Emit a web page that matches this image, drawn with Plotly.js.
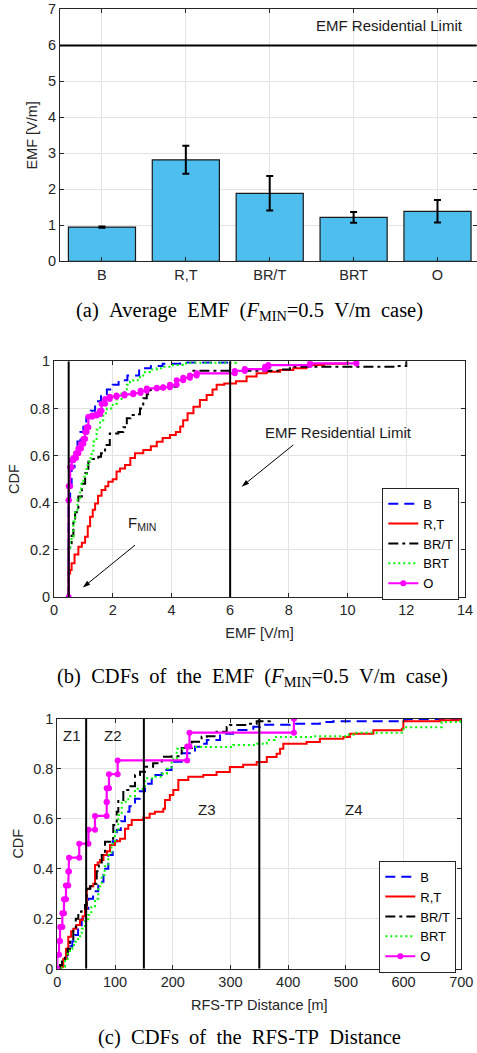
<!DOCTYPE html>
<html><head><meta charset="utf-8">
<script src="https://cdn.plot.ly/plotly-3.0.1.min.js"></script>
<style>html,body{margin:0;padding:0;background:#fff}</style>
</head><body><div id="chart" style="width:477px;height:1053px"></div>
<script>
// ---------- (a) Average EMF ----------
const categories = ['B', 'R,T', 'BR/T', 'BRT', 'O'];
const avgEmf = [0.95, 2.82, 1.89, 1.22, 1.39];
const avgEmfErr = [0.02, 0.39, 0.48, 0.15, 0.31];
const emfLimit = 6;
const fMin = 0.5;

// ---------- (b) CDFs of the EMF (jump positions and CDF level after each jump) ----------
const emfB_x = [0.5, 0.55, 0.6, 0.7, 0.8, 0.9, 1.0, 1.1, 1.25, 1.4, 1.6, 1.8, 2.0, 2.2, 2.5, 2.9, 3.3, 3.7, 4.3, 5.9];
const emfB_f = [0.40, 0.48, 0.55, 0.61, 0.66, 0.70, 0.73, 0.76, 0.79, 0.83, 0.86, 0.88, 0.90, 0.92, 0.94, 0.97, 0.98, 0.99, 0.995, 1.0];

const emfRT_x = [0.5, 0.55, 0.6, 0.7, 0.83, 0.95, 1.06, 1.15, 1.23, 1.32, 1.4, 1.5, 1.62, 1.75, 1.85, 2.0, 2.13, 2.25, 2.42, 2.6, 2.76, 3.04, 3.3, 3.5, 3.7, 3.95, 4.15, 4.3, 4.4, 4.55, 4.75, 4.97, 5.2, 5.4, 5.54, 5.8, 6.2, 6.56, 6.9, 7.24, 7.7, 8.15, 8.6, 9.2, 10.0];
const emfRT_f = [0.10, 0.115, 0.143, 0.18, 0.213, 0.23, 0.256, 0.30, 0.34, 0.37, 0.397, 0.43, 0.454, 0.47, 0.489, 0.50, 0.532, 0.545, 0.56, 0.59, 0.61, 0.624, 0.64, 0.659, 0.675, 0.687, 0.70, 0.723, 0.75, 0.78, 0.807, 0.836, 0.857, 0.88, 0.90, 0.906, 0.915, 0.935, 0.949, 0.956, 0.963, 0.97, 0.984, 0.99, 1.0];

const emfBRT_slash_x = [0.5, 0.55, 0.6, 0.66, 0.72, 0.83, 0.95, 1.06, 1.17, 1.3, 1.51, 1.6, 1.74, 1.9, 2.19, 2.36, 2.48, 2.6, 2.76, 2.93, 3.04, 3.16, 3.27, 3.5, 3.95, 4.18, 4.4, 4.63, 4.75, 7.8, 8.04, 11.6, 12.0];
const emfBRT_slash_f = [0.21, 0.228, 0.26, 0.327, 0.36, 0.426, 0.48, 0.525, 0.574, 0.585, 0.595, 0.61, 0.645, 0.694, 0.70, 0.72, 0.758, 0.772, 0.775, 0.80, 0.843, 0.86, 0.878, 0.885, 0.892, 0.92, 0.93, 0.942, 0.96, 0.965, 0.977, 0.98, 1.0];

const emfBRT_x = [0.5, 0.55, 0.6, 0.66, 0.72, 0.8, 0.89, 0.94, 1.0, 1.11, 1.2, 1.28, 1.34, 1.45, 1.57, 1.68, 1.8, 2.0, 2.15, 2.3, 2.48, 2.59, 2.7, 2.93, 3.1, 3.27, 3.5, 3.72, 4.05, 4.5, 6.2];
const emfBRT_f = [0.20, 0.235, 0.256, 0.32, 0.37, 0.42, 0.46, 0.48, 0.51, 0.56, 0.59, 0.616, 0.66, 0.71, 0.75, 0.78, 0.80, 0.82, 0.84, 0.87, 0.90, 0.913, 0.92, 0.94, 0.955, 0.965, 0.97, 0.977, 0.984, 0.994, 1.0];

const emfO_x = [0.5, 0.5, 0.55, 0.6, 0.66, 0.75, 0.83, 0.92, 1.0, 1.06, 1.11, 1.17, 1.3, 1.45, 1.57, 1.62, 1.74, 1.9, 2.13, 2.4, 2.7, 2.95, 3.16, 3.5, 3.72, 3.95, 4.18, 4.4, 4.63, 4.86, 6.16, 6.5, 7.19, 7.3, 8.72, 10.3];
const emfO_f = [0.41, 0.47, 0.55, 0.58, 0.59, 0.61, 0.63, 0.65, 0.67, 0.70, 0.72, 0.765, 0.77, 0.775, 0.79, 0.82, 0.84, 0.85, 0.855, 0.86, 0.865, 0.875, 0.885, 0.888, 0.89, 0.90, 0.92, 0.93, 0.94, 0.949, 0.959, 0.967, 0.977, 0.984, 0.991, 1.0];

// ---------- (c) CDFs of the RFS-TP distance ----------
const zoneBorders = [50, 150, 350];
const zoneLabels = ['Z1', 'Z2', 'Z3', 'Z4'];

const distB_x = [5, 10, 16.2, 22, 26, 30.7, 36, 42.3, 48, 53.7, 62, 71, 80, 88.4, 96, 103, 110, 117.3, 125, 134.6, 143, 152, 163.6, 181, 198, 215.6, 238.6, 250, 259, 282, 304.5, 339.6, 351, 403, 455, 478, 594, 605, 698];
const distB_f = [0.01, 0.035, 0.068, 0.09, 0.11, 0.135, 0.165, 0.2, 0.24, 0.28, 0.31, 0.348, 0.4, 0.455, 0.51, 0.555, 0.59, 0.628, 0.65, 0.68, 0.71, 0.74, 0.775, 0.795, 0.828, 0.862, 0.888, 0.9, 0.915, 0.94, 0.955, 0.968, 0.976, 0.98, 0.987, 0.99, 0.995, 0.998, 1.0];

const distRT_x = [7.6, 10.4, 15, 19, 24, 27.7, 33, 39.3, 44, 48, 51, 57, 62.4, 65.3, 70, 74, 80, 86, 91.3, 100, 108.6, 117.3, 123, 129, 149, 160, 169, 183.7, 186.6, 195, 201, 209.7, 227, 253, 276, 299, 322, 345.5, 363, 380, 386, 391.6, 432, 455, 495.6, 507, 547.6, 597, 599.6, 663, 698];
const distRT_f = [0.008, 0.04, 0.08, 0.128, 0.15, 0.16, 0.175, 0.195, 0.21, 0.24, 0.32, 0.33, 0.34, 0.415, 0.425, 0.435, 0.455, 0.47, 0.495, 0.51, 0.52, 0.56, 0.575, 0.595, 0.604, 0.62, 0.628, 0.64, 0.675, 0.695, 0.715, 0.755, 0.768, 0.775, 0.787, 0.807, 0.816, 0.827, 0.847, 0.86, 0.88, 0.90, 0.907, 0.92, 0.927, 0.94, 0.954, 0.96, 0.99, 0.994, 1.0];

const distBRT_slash_x = [4.7, 8, 13.3, 18, 22, 27.7, 32, 36.4, 42, 48, 51, 57, 62.4, 68.3, 72, 77, 82.7, 91.3, 97, 103, 105.7, 114.4, 125, 134.6, 143.3, 152, 166, 181, 198, 215.6, 233, 250, 259, 276, 293.5, 299, 328, 345.5, 368.6, 371.5];
const distBRT_slash_f = [0.015, 0.035, 0.055, 0.08, 0.108, 0.16, 0.2, 0.228, 0.24, 0.255, 0.32, 0.33, 0.34, 0.39, 0.42, 0.455, 0.508, 0.52, 0.575, 0.628, 0.675, 0.715, 0.73, 0.775, 0.788, 0.808, 0.822, 0.848, 0.85, 0.883, 0.908, 0.928, 0.93, 0.948, 0.967, 0.975, 0.98, 0.99, 0.994, 1.0];

const distBRT_x = [7.6, 13.3, 18, 22, 26, 30.7, 36, 42.3, 48, 53.7, 59, 65.3, 71, 77, 82, 88.4, 94, 100, 105.7, 111.6, 123, 134.6, 152, 169, 181, 190, 198, 201, 207, 230, 304.5, 345.5, 363, 377, 443.6, 501.5, 513, 599.6, 666, 698];
const distBRT_f = [0.008, 0.04, 0.06, 0.08, 0.095, 0.108, 0.13, 0.16, 0.19, 0.215, 0.25, 0.28, 0.33, 0.375, 0.41, 0.455, 0.50, 0.548, 0.615, 0.668, 0.69, 0.72, 0.762, 0.768, 0.78, 0.80, 0.828, 0.84, 0.88, 0.887, 0.895, 0.9, 0.915, 0.927, 0.93, 0.936, 0.944, 0.966, 0.987, 1.0];

const distO_x = [0, 3, 4.7, 8.7, 11.6, 15, 19, 20.3, 38, 54, 65.3, 85.6, 85.6, 89.6, 104.6, 225, 229, 410];
const distO_f = [0.056, 0.111, 0.167, 0.222, 0.278, 0.333, 0.389, 0.444, 0.5, 0.556, 0.611, 0.667, 0.722, 0.778, 0.833, 0.889, 0.944, 1.0];

// annotation arrows in (b): [tail, head] in data units
const arrowLimit = {x: [8.15, 6.39], y: [0.645, 0.468]};
const arrowFmin = {x: [2.76, 0.98], y: [0.22, 0.04]};

// ---------- helpers ----------
const W = 477, H = 1053;
const px = v => v / W;
const py = v => 1 - v / H;

// empirical CDF staircase vertices: (x0,0),(x0,f0),(x1,f0),(x1,f1),...
function stairs(xs, fs) {
  const X = [xs[0]], Y = [0];
  for (let i = 0; i < xs.length; i++) {
    X.push(xs[i]); Y.push(fs[i]);
    if (i < xs.length - 1) { X.push(xs[i + 1]); Y.push(fs[i]); }
  }
  return {X, Y};
}

const seriesStyle = [
  {name: 'B',    color: '#0000FF', dash: '10px,6px'},
  {name: 'R,T',  color: '#FF0000', dash: 'solid'},
  {name: 'BR/T', color: '#000000', dash: '10px,4px,3px,4px'},
  {name: 'BRT',  color: '#00FF00', dash: '2px,3px'},
  {name: 'O',    color: '#FF00FF', dash: 'solid', marker: true}
];

function cdfTraces(sets, xa, ya, leg) {
  return sets.map((s, i) => {
    const st = stairs(s[0], s[1]);
    const sty = seriesStyle[i];
    const t = {
      type: 'scatter', x: st.X, y: st.Y, name: sty.name,
      xaxis: xa, yaxis: ya, legend: leg,
      mode: sty.marker ? 'lines+markers' : 'lines',
      line: {color: sty.color, width: sty.marker ? 2.2 : 2, dash: sty.dash},
      hoverinfo: 'skip'
    };
    if (sty.marker) t.marker = {color: sty.color, size: 6};
    return t;
  });
}

function arrowTrace(a) {
  return {
    type: 'scatter', x: a.x, y: a.y, xaxis: 'x2', yaxis: 'y2', mode: 'lines+markers',
    line: {color: '#000', width: 1},
    marker: {symbol: 'arrow', angleref: 'previous', size: 8, color: '#000'},
    showlegend: false, hoverinfo: 'skip'
  };
}

const traces = [];
traces.push({
  type: 'bar', x: categories, y: avgEmf, xaxis: 'x', yaxis: 'y', width: 0.8,
  marker: {color: '#4DBEEE', line: {color: '#1a1a1a', width: 1.2}},
  error_y: {type: 'data', array: avgEmfErr, visible: true, color: '#000', thickness: 2, width: 3.5},
  showlegend: false, hoverinfo: 'skip'
});
cdfTraces([[emfB_x, emfB_f], [emfRT_x, emfRT_f], [emfBRT_slash_x, emfBRT_slash_f], [emfBRT_x, emfBRT_f], [emfO_x, emfO_f]], 'x2', 'y2', 'legend').forEach(t => traces.push(t));
traces.push(arrowTrace(arrowLimit));
traces.push(arrowTrace(arrowFmin));
cdfTraces([[distB_x, distB_f], [distRT_x, distRT_f], [distBRT_slash_x, distBRT_slash_f], [distBRT_x, distBRT_f], [distO_x, distO_f]], 'x3', 'y3', 'legend2').forEach(t => traces.push(t));

const axColor = '#262626';
const gridColor = '#e3e3e3';
const sans = 'Liberation Sans, Arial, sans-serif';
const tickFont = {family: sans, size: 14.5, color: axColor};
function ax(extra) {
  return Object.assign({
    showline: true, linecolor: axColor, linewidth: 1, mirror: 'ticks',
    ticks: 'inside', ticklen: 4, tickcolor: axColor, tickwidth: 1,
    showgrid: true, gridcolor: gridColor, gridwidth: 1, zeroline: false,
    tickfont: tickFont, fixedrange: true
  }, extra);
}
const titleFont = {family: sans, size: 14.5, color: axColor};

const shapes = [];
shapes.push({type: 'line', xref: 'x domain', yref: 'y', x0: 0, x1: 1, y0: emfLimit, y1: emfLimit, line: {color: '#000', width: 2}});
[fMin, emfLimit].forEach(v => shapes.push({type: 'line', xref: 'x2', yref: 'y2', x0: v, x1: v, y0: 0, y1: 1, line: {color: '#000', width: 2}}));
zoneBorders.forEach(v => shapes.push({type: 'line', xref: 'x3', yref: 'y3', x0: v, x1: v, y0: 0, y1: 1, line: {color: '#000', width: 2}}));

const capFont = {family: 'Liberation Serif, Times New Roman, serif', size: 20.5, color: '#000'};
const sp = '\u2002';
const annFont = {family: sans, size: 15, color: '#1a1a1a'};
const annotations = [
  {xref: 'paper', yref: 'paper', x: px(249), y: py(311.5), text: '(a)' + sp + 'Average' + sp + 'EMF' + sp + '(<i>F</i><sub>MIN</sub>=0.5' + sp + 'V/m' + sp + 'case)', showarrow: false, font: capFont, xanchor: 'center', yanchor: 'middle'},
  {xref: 'paper', yref: 'paper', x: px(252), y: py(677), text: '(b)' + sp + 'CDFs' + sp + 'of' + sp + 'the' + sp + 'EMF' + sp + '(<i>F</i><sub>MIN</sub>=0.5' + sp + 'V/m' + sp + 'case)', showarrow: false, font: capFont, xanchor: 'center', yanchor: 'middle'},
  {xref: 'paper', yref: 'paper', x: px(249), y: py(1037), text: '(c)' + sp + 'CDFs' + sp + 'of' + sp + 'the' + sp + 'RFS-TP' + sp + 'Distance', showarrow: false, font: capFont, xanchor: 'center', yanchor: 'middle'},
  {xref: 'paper', yref: 'y', x: px(465), y: 6.56, text: 'EMF Residential Limit', showarrow: false, font: annFont, xanchor: 'right', yanchor: 'middle'},
  {xref: 'x2', yref: 'y2', x: 9.7, y: 0.70, text: 'EMF Residential Limit', showarrow: false, font: annFont, xanchor: 'center', yanchor: 'middle'},
  {xref: 'x2', yref: 'y2', x: 3.0, y: 0.31, text: 'F<sub>MIN</sub>', showarrow: false, font: annFont, xanchor: 'center', yanchor: 'middle'},
  {xref: 'x3', yref: 'y3', x: 25, y: 0.932, text: zoneLabels[0], showarrow: false, font: annFont},
  {xref: 'x3', yref: 'y3', x: 97, y: 0.932, text: zoneLabels[1], showarrow: false, font: annFont},
  {xref: 'x3', yref: 'y3', x: 260, y: 0.638, text: zoneLabels[2], showarrow: false, font: annFont},
  {xref: 'x3', yref: 'y3', x: 514, y: 0.638, text: zoneLabels[3], showarrow: false, font: annFont}
];

const legendBase = {
  xanchor: 'left', yanchor: 'top', bgcolor: '#fff', bordercolor: axColor, borderwidth: 1,
  font: {family: sans, size: 13, color: '#000'},
  itemwidth: 30, tracegroupgap: 0
};

const layout = {
  width: W, height: H, margin: {l: 0, r: 0, t: 0, b: 0},
  paper_bgcolor: '#fff', plot_bgcolor: '#fff', showlegend: true,
  xaxis: ax({domain: [px(60), px(476.5)], type: 'category', range: [-0.5, 4.465], anchor: 'y'}),
  yaxis: ax({domain: [py(261.3), py(9.4)], range: [0, 7], dtick: 1, anchor: 'x',
    title: {text: 'EMF [V/m]', font: titleFont, standoff: 6}}),
  xaxis2: ax({domain: [px(54), px(465)], range: [0, 14], dtick: 2, anchor: 'y2',
    title: {text: 'EMF [V/m]', font: titleFont, standoff: 10}}),
  yaxis2: ax({domain: [py(597), py(361.3)], range: [0, 1], dtick: 0.2, anchor: 'x2',
    title: {text: 'CDF', font: titleFont, standoff: 6}}),
  xaxis3: ax({domain: [px(57.3), px(461.3)], range: [0, 700], dtick: 100, anchor: 'y3',
    title: {text: 'RFS-TP Distance [m]', font: titleFont, standoff: 10}}),
  yaxis3: ax({domain: [py(968.7), py(718.7)], range: [0, 1], dtick: 0.2, anchor: 'x3',
    title: {text: 'CDF', font: titleFont, standoff: 6}}),
  legend: Object.assign({}, legendBase, {x: px(382.3), y: py(487.7)}),
  legend2: Object.assign({}, legendBase, {x: px(379.3), y: py(860.7)}),
  shapes: shapes,
  annotations: annotations,
  bargap: 0.2
};

Plotly.newPlot('chart', traces, layout, {displayModeBar: false, staticPlot: true});
</script>
</body></html>
